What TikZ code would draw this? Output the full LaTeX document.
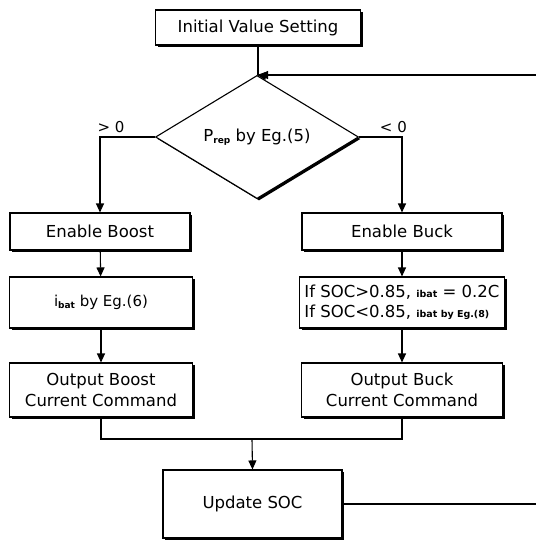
\documentclass[tikz,border=0pt]{standalone}
\usepackage{fontspec}
\setmainfont{DejaVu Sans}
\usetikzlibrary{shapes.geometric,shadows}
\usetikzlibrary{arrows.meta}

\tikzset{
  blk/.style={draw, line width=1.1pt, fill=white, inner sep=0pt, align=center,
    drop shadow={shadow xshift=2pt, shadow yshift=-2pt, fill=black, opacity=1},
    font=\fontsize{16.5}{21}\selectfont},
  flow/.style={line width=1.1pt, -{Triangle[length=9pt,width=8pt]}},
}
\newcommand{\subtx}[1]{\raisebox{-1.5pt}{\fontsize{9}{10}\selectfont\bfseries #1}}

\begin{document}
\begin{tikzpicture}[x=1pt,y=-1pt]
\useasboundingbox (0,0) rectangle (536,542);
\node[blk, minimum width=205, minimum height=35] (init) at (258,27.5) {Initial Value Setting};
\coordinate (join) at (258,75);
\node[blk, diamond, minimum width=203, minimum height=75] (dec) at (257,137) {P\subtx{rep} by Eg.(5)};
% left and right branches
\node[blk, minimum width=180, minimum height=37] (boost) at (100,231.5) {Enable Boost};
\node[blk, minimum width=183, minimum height=51, font=\fontsize{15}{18}\selectfont] (ibat) at (101,302.5) {i\subtx{bat} by Eg.(6)};
\node[blk, minimum width=183, minimum height=54] (outb) at (101,390) {Output Boost\\Current Command};
\node[blk, minimum width=200, minimum height=37] (buck) at (402,231.5) {Enable Buck};
\node[blk, minimum width=205, minimum height=51, align=left, font=\fontsize{16.5}{20}\selectfont] (soc) at (402,302.5)
  {If SOC>0.85, {\fontsize{9.5}{10}\selectfont\bfseries ibat} = 0.2C\\If SOC<0.85, {\fontsize{9.5}{10}\selectfont\bfseries ibat by Eg.(8)}};
\node[blk, minimum width=201, minimum height=54] (outk) at (402,390) {Output Buck\\Current Command};
\coordinate (merge) at (252,439);
\node[blk, minimum width=179, minimum height=68] (upd) at (252.5,504) {Update SOC};
\coordinate (fbB) at (536,504);
\coordinate (fbT) at (536,75);

\draw[line width=1.1pt] (init.south) -- (join);
\draw[flow] (join) -- (dec.north);
\draw[flow] (dec.west) -| node[pos=0.4, above] {\fontsize{15}{17}\selectfont > 0} (boost.north);
\draw[flow] (dec.east) -| node[pos=0.4, above] {\fontsize{15}{17}\selectfont < 0} (buck.north);
\draw[flow] (boost) -- (ibat);
\draw[flow] (ibat) -- (outb);
\draw[flow] (buck) -- (soc);
\draw[flow] (soc) -- (outk);
\draw[line width=1.1pt] (outb.south) |- (merge) -| (outk.south);
\draw[flow] (merge) -- (upd.north);
\draw[line width=1.1pt] (upd.east) -- (fbB);
\draw[flow, shorten >=1pt] (fbT) -- (join);
\end{tikzpicture}
\end{document}
